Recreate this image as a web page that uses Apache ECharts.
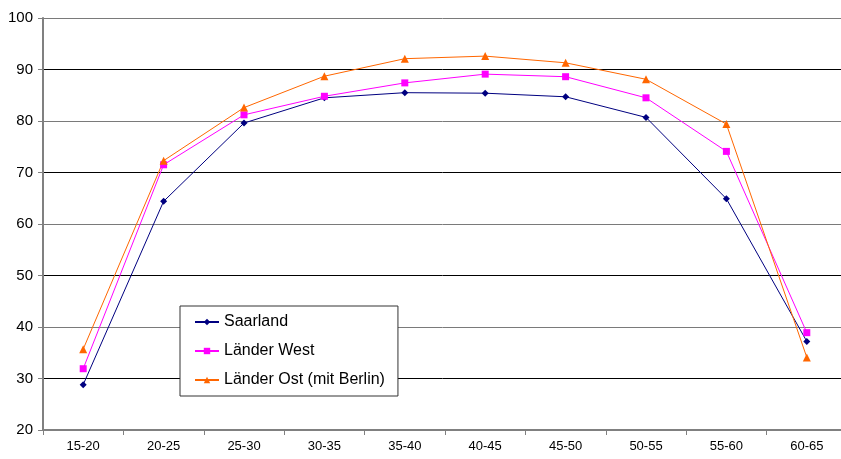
<!DOCTYPE html>
<html>
<head>
<meta charset="utf-8">
<script src="https://cdn.jsdelivr.net/npm/echarts@6/dist/echarts.min.js"></script>
<style>
  html, body { margin: 0; padding: 0; background: #fff; }
  #chart { width: 841px; height: 459px; }
</style>
</head>
<body>
<div id="chart"></div>
<script>
// Age groups on the x axis
const ageGroups = ['15-20', '20-25', '25-30', '30-35', '35-40', '40-45', '45-50', '50-55', '55-60', '60-65'];

// Rates per age group (%)
const saarland = [28.8, 64.4, 79.6, 84.5, 85.5, 85.4, 84.7, 80.7, 64.9, 37.2];
const laenderWest = [31.9, 71.5, 81.2, 84.8, 87.4, 89.1, 88.6, 84.5, 74.1, 38.9];
const laenderOst = [35.7, 72.3, 82.6, 88.7, 92.1, 92.6, 91.3, 88.1, 79.4, 34.1];

const seriesNames = ['Saarland', 'Länder West', 'Länder Ost (mit Berlin)'];

const font = "'Liberation Sans', Arial, sans-serif";

const chart = echarts.init(document.getElementById('chart'), null, { renderer: 'canvas' });

function lineSeries(name, data, color, symbol, size) {
  return {
    name: name,
    type: 'line',
    data: data,
    symbol: symbol,
    symbolSize: size,
    showAllSymbol: true,
    lineStyle: { color: color, width: 1 },
    itemStyle: { color: color },
    emphasis: { disabled: true },
    animation: false
  };
}

chart.setOption({
  animation: false,
  backgroundColor: '#fff',
  // the plot runs a few pixels past the right edge of the canvas
  grid: { left: 43, top: 18, width: 804, height: 412, containLabel: false, outerBoundsMode: 'none' },
  legend: {
    orient: 'vertical',
    left: 180,
    top: 306,
    data: seriesNames,
    backgroundColor: '#fff',
    borderColor: '#333',
    borderWidth: 1,
    borderRadius: 0,
    padding: [8, 13, 8, 14],
    itemWidth: 24,
    itemHeight: 8,
    itemGap: 13,
    textStyle: { fontFamily: font, fontSize: 16, color: '#000', lineHeight: 16 }
  },
  xAxis: {
    type: 'category',
    data: ageGroups,
    boundaryGap: true,
    axisLine: { lineStyle: { color: '#808080', width: 2 } },
    axisTick: { show: true, length: 5, inside: false, lineStyle: { color: '#808080', width: 1 } },
    axisLabel: { fontFamily: font, fontSize: 13, color: '#000', margin: 10 },
    splitLine: { show: false }
  },
  yAxis: {
    type: 'value',
    min: 20,
    max: 100,
    interval: 10,
    axisLine: { show: true, lineStyle: { color: '#808080', width: 2 } },
    axisTick: { show: true, length: 5, lineStyle: { color: '#808080', width: 1 } },
    axisLabel: { fontFamily: font, fontSize: 15, color: '#000', margin: 10 },
    splitLine: { show: true, lineStyle: { color: ['#7a7a7a', '#000'], width: 1 } }
  },
  series: [
    lineSeries(seriesNames[0], saarland, '#000080', 'diamond', 7),
    lineSeries(seriesNames[1], laenderWest, '#ff00ff', 'rect', 7),
    lineSeries(seriesNames[2], laenderOst, '#ff6600', 'triangle', 8)
  ]
});
</script>
</body>
</html>
